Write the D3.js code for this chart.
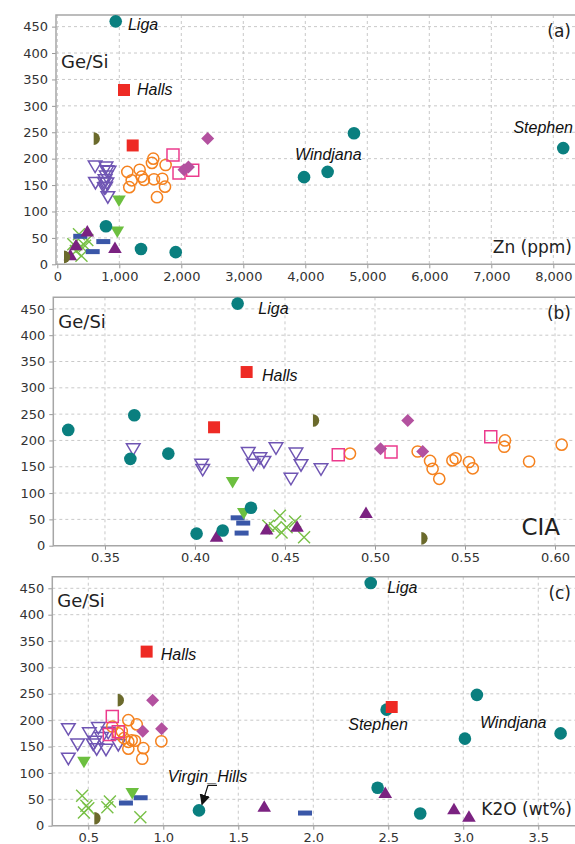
<!DOCTYPE html>
<html>
<head>
<meta charset="utf-8">
<script src="https://cdn.jsdelivr.net/npm/d3@7"></script>
<style>
body { margin: 0; background: #fff; }
svg { display: block; }
</style>
</head>
<body>
<div id="container"></div>
<script>
// every sample: [Zn (ppm), CIA, K2O (wt%), Ge/Si]
var tealPts = [
	[942, 0.4237, 2.383, 460],
	[4785, 0.3663, 3.091, 248],
	[8160, 0.3296, 2.489, 220],
	[4360, 0.3852, 3.649, 175],
	[3980, 0.3641, 3.011, 165],
	[785, 0.4311, 2.429, 72],
	[1350, 0.4154, 1.238, 29],
	[1910, 0.4009, 2.713, 23]
];
var redPts = [
	[1076, 0.4287, 0.889, 330],
	[1216, 0.4106, 2.523, 225]
];
var olivePts = [
	[635, 0.4672, 0.716, 238],
	[156, 0.5274, 0.560, 14]
];
var diamondPts = [
	[2426, 0.5182, 0.929, 238],
	[2115, 0.5031, 0.989, 184],
	[2044, 0.5265, 0.863, 179]
];
var pinkPts = [
	[1866, 0.5643, 0.660, 207],
	[1963, 0.4796, 0.640, 173],
	[2184, 0.5089, 0.700, 178]
];
var orangePts = [
	[1548, 0.5722, 0.767, 200],
	[1527, 0.6037, 0.823, 192],
	[1747, 0.5718, 0.660, 188],
	[1328, 0.5237, 0.723, 179],
	[1129, 0.4861, 0.700, 175],
	[1360, 0.5448, 0.738, 166],
	[1694, 0.5430, 0.789, 162],
	[1559, 0.5306, 0.811, 161],
	[1398, 0.5856, 0.987, 160],
	[1200, 0.5522, 0.767, 159],
	[1737, 0.5543, 0.867, 147],
	[1161, 0.5320, 0.767, 146],
	[1608, 0.5357, 0.860, 127]
];
var violetPts = [
	[610, 0.4450, 0.567, 186],
	[785, 0.3657, 0.367, 184],
	[800, 0.4296, 0.633, 177],
	[835, 0.4561, 0.507, 176],
	[790, 0.4361, 0.589, 167],
	[770, 0.4383, 0.545, 160],
	[615, 0.4037, 0.533, 155],
	[760, 0.4324, 0.429, 155],
	[800, 0.4589, 0.700, 154],
	[780, 0.4700, 0.556, 146],
	[760, 0.4043, 0.618, 145],
	[815, 0.4533, 0.367, 128]
];
var greenTriPts = [
	[995, 0.4209, 0.471, 121],
	[968, 0.4271, 0.793, 62]
];
var dashPts = [
	[370, 0.4237, 0.849, 53],
	[742, 0.4268, 0.751, 43],
	[571, 0.4259, 1.945, 24]
];
var plumPts = [
	[484, 0.4950, 2.480, 62],
	[302, 0.4567, 1.673, 36],
	[930, 0.4398, 2.938, 31],
	[210, 0.4120, 3.038, 17]
];
var crossPts = [
	[350, 0.4472, 0.459, 57],
	[484, 0.4556, 0.644, 46],
	[258, 0.4407, 0.487, 38],
	[447, 0.4509, 0.627, 35],
	[393, 0.4444, 0.500, 33],
	[300, 0.4481, 0.471, 25],
	[390, 0.4606, 0.847, 16]
];

// tick labels
var znTicks = [0, 1000, 2000, 3000, 4000, 5000, 6000, 7000, 8000];
var ciaTicks = [0.35, 0.40, 0.45, 0.50, 0.55, 0.60];
var k2oTicks = [0.5, 1.0, 1.5, 2.0, 2.5, 3.0, 3.5];
var geTicks = [0, 50, 100, 150, 200, 250, 300, 350, 400, 450];

// site names: [panel, text, x value, Ge/Si value, anchor]
var siteNames = [
	[0, "Liga", 1140, 444, "start"],
	[0, "Halls", 1285, 320, "start"],
	[0, "Windjana", 3834, 197, "start"],
	[0, "Stephen", 8318, 248, "end"],
	[1, "Liga", 0.4352, 441, "start"],
	[1, "Halls", 0.4372, 313, "start"],
	[2, "Liga", 2.493, 442, "start"],
	[2, "Halls", 0.983, 315, "start"],
	[2, "Stephen", 2.233, 181, "start"],
	[2, "Windjana", 3.111, 185, "start"],
	[2, "Virgin_Hills", 1.029, 83, "start"]
];

var groups = [
	{data: violetPts, shape: "triDown", fill: "none", stroke: "#6f55b3"},
	{data: orangePts, shape: "ring", fill: "none", stroke: "#f5821f"},
	{data: pinkPts, shape: "square", fill: "none", stroke: "#ec3b8d"},
	{data: diamondPts, shape: "diamond", fill: "#b3519f", stroke: "none"},
	{data: crossPts, shape: "cross", fill: "none", stroke: "#78c046"},
	{data: dashPts, shape: "dash", fill: "#3a57a8", stroke: "none"},
	{data: greenTriPts, shape: "triDown", fill: "#6cbf3f", stroke: "none"},
	{data: plumPts, shape: "triUp", fill: "#7b2281", stroke: "none"},
	{data: olivePts, shape: "half", fill: "#6b6a2c", stroke: "none"},
	{data: tealPts, shape: "circle", fill: "#0a7f7f", stroke: "none"},
	{data: redPts, shape: "square", fill: "#ee2a24", stroke: "none"}
];

var panels = [
	{col: 0, letter: "(a)", title: "Zn (ppm)", titleSize: 17, ticks: znTicks, fmt: d3.format(","),
		xDom: [-21, 8350], left: 56, top: 15, bottom: 264.3, geY: 47},
	{col: 1, letter: "(b)", title: "CIA", titleSize: 23, ticks: ciaTicks, fmt: d3.format(".2f"),
		xDom: [0.3213, 0.6111], left: 53.3, top: 297.3, bottom: 545.7, geY: 25},
	{col: 2, letter: "(c)", title: "K2O (wt%)", titleSize: 17, ticks: k2oTicks, fmt: d3.format(".1f"),
		xDom: [0.26, 3.745], left: 52.3, top: 576.7, bottom: 825.7, geY: 24}
];

function shapePath(shape)
{// marker outlines around (0,0)
	if (shape == "circle") return d3.symbol(d3.symbolCircle, Math.PI * 6.3 * 6.3)();
	if (shape == "ring") return d3.symbol(d3.symbolCircle, Math.PI * 5.6 * 5.6)();
	if (shape == "square") return "M-6,-6H6V6H-6Z";
	if (shape == "diamond") return "M0,-6.5L6.5,0L0,6.5L-6.5,0Z";
	if (shape == "triUp") return "M0,-6.5L6.8,5L-6.8,5Z";
	if (shape == "triDown") return "M-6.8,-5L6.8,-5L0,6.5Z";
	if (shape == "cross") return "M-6,-6L6,6M6,-6L-6,6";
	if (shape == "dash") return "M-7,-2.5H7V2.5H-7Z";
	if (shape == "half") return "M-3,-6.3A6.3,6.3 0 0 1 -3,6.3Z";
}

function body_ready()
{
	var svg = d3.select("#container").append("svg")
		.attr("width", 575)
		.attr("height", 844)
		.style("font-family", "'DejaVu Sans', sans-serif");

	svg.append("defs").append("marker")
		.attr("id", "head")
		.attr("viewBox", "0 0 10 10")
		.attr("refX", 9).attr("refY", 5)
		.attr("markerWidth", 9).attr("markerHeight", 9)
		.attr("orient", "auto")
		.append("path").attr("d", "M0,0L10,5L0,10Z").attr("fill", "#111");

	panels.forEach(function (p) {
		var x = d3.scaleLinear().domain(p.xDom).range([p.left, 575]);
		var y = d3.scaleLinear().domain([0, 472]).range([p.bottom, p.top]);
		var g = svg.append("g");

		// grid
		g.selectAll(".gy").data(geTicks.slice(1)).enter().append("line")
			.attr("x1", p.left).attr("x2", 575)
			.attr("y1", (d) => y(d)).attr("y2", (d) => y(d))
			.attr("stroke", "#c9c9c9").attr("stroke-dasharray", "3,3");
		g.selectAll(".gx").data(p.ticks).enter().append("line")
			.attr("x1", (d) => x(d)).attr("x2", (d) => x(d))
			.attr("y1", p.top).attr("y2", p.bottom)
			.attr("stroke", "#c9c9c9").attr("stroke-dasharray", "3,3");

		// axes
		var ax = g.append("g").attr("transform", "translate(0," + p.bottom + ")")
			.call(d3.axisBottom(x).tickValues(p.ticks).tickFormat(p.fmt).tickSize(4).tickPadding(3));
		var ay = g.append("g").attr("transform", "translate(" + p.left + ",0)")
			.call(d3.axisLeft(y).tickValues(geTicks).tickSize(4).tickPadding(4));
		[ax, ay].forEach(function (a) {
			a.select(".domain").remove();
			a.selectAll("line").attr("stroke", "#999");
			a.selectAll("text").attr("fill", "#333").style("font-size", "13px")
				.style("font-family", "'DejaVu Sans', sans-serif");
		});

		// frame
		g.append("path")
			.attr("d", "M575," + p.top + "H" + p.left + "V" + p.bottom + "H575")
			.attr("fill", "none").attr("stroke", "#a6a6a6").attr("stroke-width", 1.5);

		// markers
		groups.forEach(function (s) {
			g.selectAll(null).data(s.data).enter().append("path")
				.attr("d", shapePath(s.shape))
				.attr("transform", (d) => "translate(" + x(d[p.col]) + "," + y(d[3]) + ")")
				.attr("fill", s.fill)
				.attr("stroke", s.stroke)
				.attr("stroke-width", s.shape == "cross" ? 1.4 : 1.5);
		});

		// site names
		g.selectAll(null).data(siteNames.filter((d) => d[0] == p.col)).enter().append("text")
			.attr("x", (d) => x(d[2]))
			.attr("y", (d) => y(d[3]))
			.attr("text-anchor", (d) => d[4])
			.attr("fill", "#111")
			.style("font-family", "'Liberation Sans', Arial, sans-serif")
			.style("font-style", "italic")
			.style("font-size", "16px")
			.text((d) => d[1]);

		// labels
		g.append("text").attr("x", p.left + 5).attr("y", p.top + p.geY + 6)
			.style("font-size", "18px").attr("fill", "#222").text("Ge/Si");
		g.append("text").attr("x", 571).attr("y", p.top + 22)
			.attr("text-anchor", "end").style("font-size", "17px").attr("fill", "#222").text(p.letter);
		g.append("text").attr("x", p.col == 1 ? 560 : 572).attr("y", p.bottom - 11)
			.attr("text-anchor", "end").style("font-size", p.titleSize + "px").attr("fill", "#222").text(p.title);

		if (p.col == 2) {
			var vh = tealPts[6];
			g.append("path")
				.attr("d", "M" + (x(vh[2]) + 18) + "," + (y(vh[3]) - 25) + "H" + (x(vh[2]) + 9)
					+ "L" + (x(vh[2]) + 3) + "," + (y(vh[3]) - 6))
				.attr("fill", "none").attr("stroke", "#111").attr("stroke-width", 1.2)
				.attr("marker-end", "url(#head)");
		}
	});
}

body_ready();
</script>
</body>
</html>
